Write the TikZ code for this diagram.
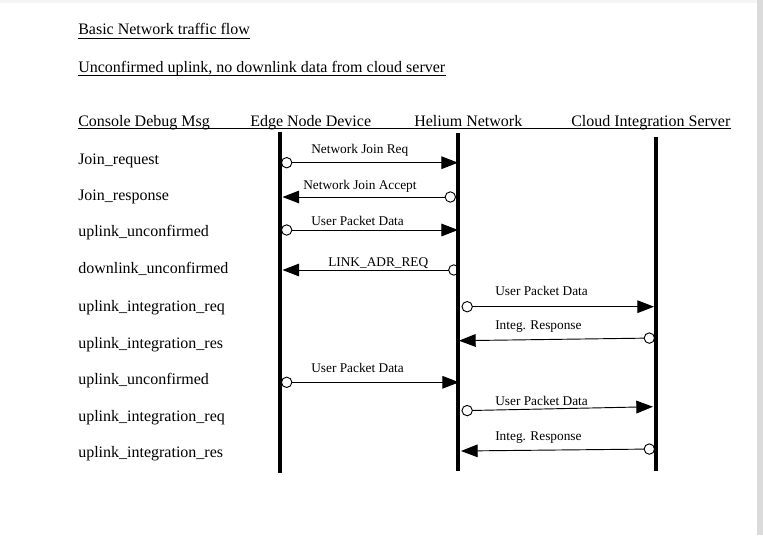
\documentclass[tikz,border=0pt]{standalone}
\usepackage{fontspec}
\setmainfont{Liberation Serif}
\usetikzlibrary{arrows.meta}

\begin{document}
\begin{tikzpicture}[x=0.75pt, y=-0.75pt]
  % Seite.
  \useasboundingbox (0,0) rectangle (763,535);
  \fill[color=white] (0,0) rectangle (763,535);
  \fill[color=gray!8] (0,0) rectangle (757,3);
  \fill[color=gray!28] (757,0) rectangle (763,535);

  % Stile.
  \tikzstyle{title}=[anchor=base west, inner sep=0pt, font=\fontsize{12}{14}\selectfont]
  \tikzstyle{logtext}=[anchor=base west, inner sep=0pt, font=\fontsize{12}{14}\selectfont]
  \tikzstyle{msgtext}=[anchor=base west, inner sep=0pt, font=\fontsize{10}{12}\selectfont]
  \tikzstyle{lifeline}=[line width=2.8pt]
  \tikzstyle{msg}=[line width=0.7pt, {Circle[open, length=8.5pt, width=8.5pt]}-{Triangle[length=12.5pt, width=9.5pt]}]

  % Ueberschriften.
  \node[title] (t1) at (78,35) {Basic Network traffic flow};
  \node[title] (t2) at (78,72.3) {Unconfirmed uplink, no downlink data from cloud server};
  \draw[line width=0.75pt] ([yshift=-2.5pt]t1.base west) -- ([yshift=-2.5pt]t1.base east);
  \draw[line width=0.75pt] ([yshift=-2.2pt]t2.base west) -- ([yshift=-2.2pt]t2.base east);

  % Spaltenkoepfe.
  \node[title] (h1) at (78,126.7) {Console Debug Msg};
  \node[title] (h2) at (250,126.7) {Edge Node Device};
  \node[title] (h3) at (414,126.7) {Helium Network};
  \node[title] (h4) at (571,126.7) {Cloud Integration Server};
  \draw[line width=0.75pt] ([yshift=-1.3pt]h1.base west) -- ([yshift=-1.3pt]h4.base east);

  % Lebenslinien.
  \coordinate (edgeTop) at (280,132);
  \coordinate (edgeBot) at (280,472.5);
  \coordinate (heliumTop) at (458,133);
  \coordinate (heliumBot) at (458,470.5);
  \coordinate (cloudTop) at (656,137);
  \coordinate (cloudBot) at (656,470.5);

  \draw[lifeline] (edgeTop) -- (edgeBot);
  \draw[lifeline] (heliumTop) -- (heliumBot);
  \draw[lifeline] (cloudTop) -- (cloudBot);

  % Debug-Meldungen.
  \node[logtext] (log1) at (78,164) {Join\_request};
  \node[logtext] (log2) at (78,200) {Join\_response};
  \node[logtext] (log3) at (78,236.7) {uplink\_unconfirmed};
  \node[logtext] (log4) at (78,273.3) {downlink\_unconfirmed};
  \node[logtext] (log5) at (78,311.7) {uplink\_integration\_req};
  \node[logtext] (log6) at (78,348.3) {uplink\_integration\_res};
  \node[logtext] (log7) at (78,384.3) {uplink\_unconfirmed};
  \node[logtext] (log8) at (78,421.7) {uplink\_integration\_req};
  \node[logtext] (log9) at (78,457.7) {uplink\_integration\_res};

  % Nachrichten.
  \coordinate (m1a) at (281,162.7);
  \coordinate (m1b) at (458,162.7);
  \coordinate (m2a) at (456,197);
  \coordinate (m2b) at (282.5,197);
  \coordinate (m3a) at (281,230);
  \coordinate (m3b) at (458,230);
  \coordinate (m4a) at (459.5,270);
  \coordinate (m4b) at (282.5,270);
  \coordinate (m5a) at (461.5,306.7);
  \coordinate (m5b) at (654,306.7);
  \coordinate (m6a) at (655,338);
  \coordinate (m6b) at (459,340.7);
  \coordinate (m7a) at (281,382.3);
  \coordinate (m7b) at (459,382.3);
  \coordinate (m8a) at (461.5,410.7);
  \coordinate (m8b) at (653,406.7);
  \coordinate (m9a) at (655,449);
  \coordinate (m9b) at (461,451);

  \draw[msg] (m1a) -- (m1b);
  \draw[msg] (m2a) -- (m2b);
  \draw[msg] (m3a) -- (m3b);
  \draw[msg] (m4a) -- (m4b);
  \draw[msg] (m5a) -- (m5b);
  \draw[msg] (m6a) -- (m6b);
  \draw[msg] (m7a) -- (m7b);
  \draw[msg] (m8a) -- (m8b);
  \draw[msg] (m9a) -- (m9b);

  % Beschriftungen.
  \node[msgtext] (n1) at (311,153.3) {Network Join Req};
  \node[msgtext] (n2) at (303,189) {Network Join Accept};
  \node[msgtext] (n3) at (311,225) {User Packet Data};
  \node[msgtext] (n4) at (328,266.7) {LINK\_ADR\_REQ};
  \node[msgtext] (n5) at (495,295) {User Packet Data};
  \node[msgtext] (n6) at (495,329) {Integ. Response};
  \node[msgtext] (n7) at (311,372.7) {User Packet Data};
  \node[msgtext] (n8) at (495,405) {User Packet Data};
  \node[msgtext] (n9) at (495,440) {Integ. Response};
\end{tikzpicture}
\end{document}
